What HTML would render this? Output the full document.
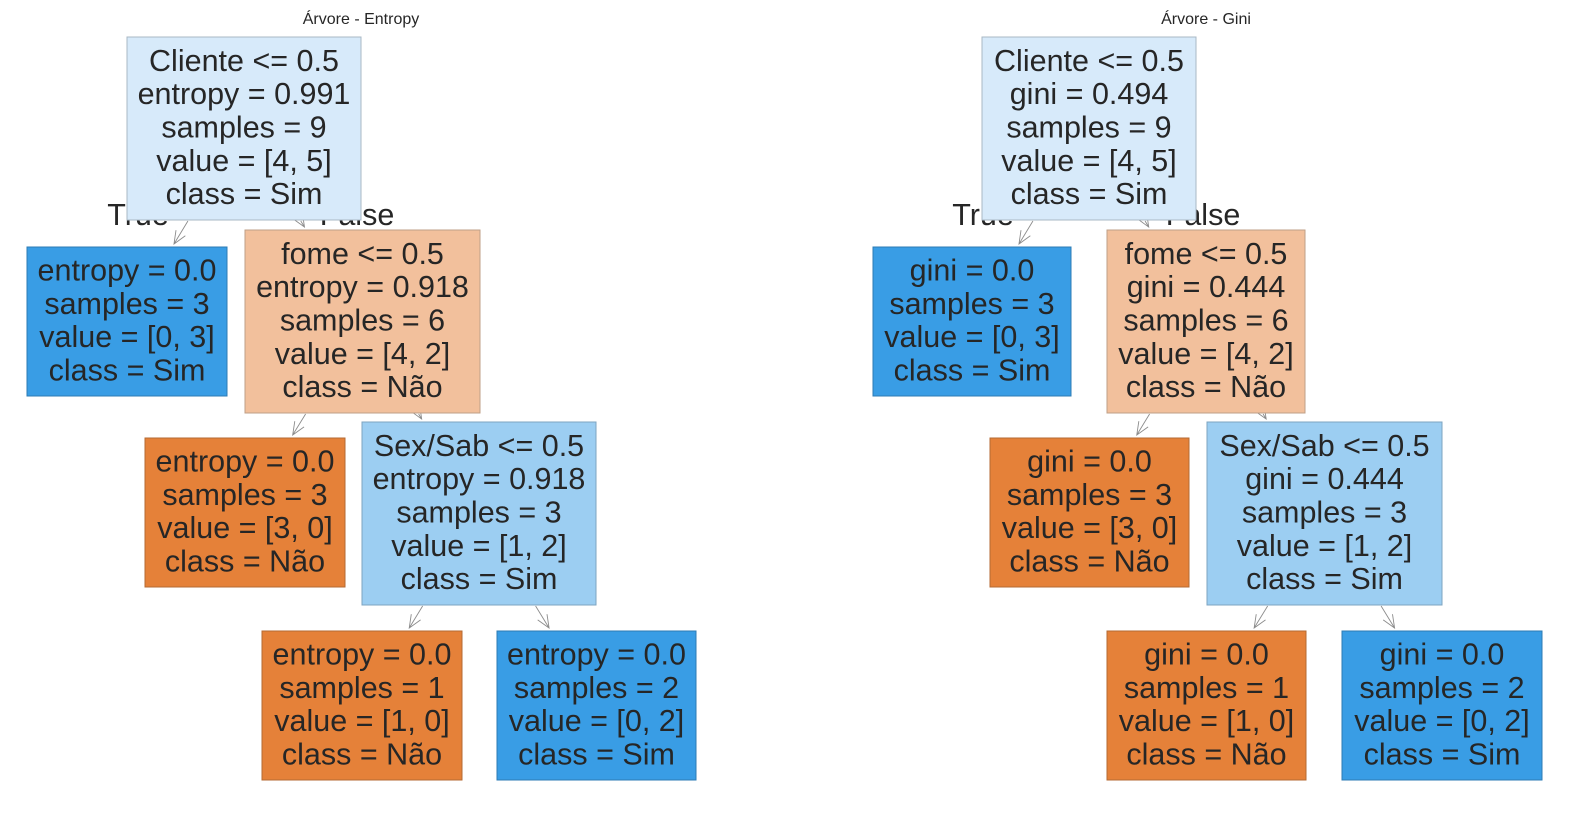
<!DOCTYPE html>
<html><head><meta charset="utf-8"><style>
html,body{margin:0;padding:0;background:#fff;}
svg{display:block;font-family:"Liberation Sans",Arial,sans-serif;}
</style></head><body>
<svg id="chart" width="1569" height="813" viewBox="0 0 1569 813"></svg>
<script>
const titles = ["Árvore - Entropy", "Árvore - Gini"];
const titleX = [361, 1206];
const entropyLines = [
 ["Cliente <= 0.5","entropy = 0.991","samples = 9","value = [4, 5]","class = Sim"],
 ["entropy = 0.0","samples = 3","value = [0, 3]","class = Sim"],
 ["fome <= 0.5","entropy = 0.918","samples = 6","value = [4, 2]","class = Não"],
 ["entropy = 0.0","samples = 3","value = [3, 0]","class = Não"],
 ["Sex/Sab <= 0.5","entropy = 0.918","samples = 3","value = [1, 2]","class = Sim"],
 ["entropy = 0.0","samples = 1","value = [1, 0]","class = Não"],
 ["entropy = 0.0","samples = 2","value = [0, 2]","class = Sim"]
];
const giniLines = [
 ["Cliente <= 0.5","gini = 0.494","samples = 9","value = [4, 5]","class = Sim"],
 ["gini = 0.0","samples = 3","value = [0, 3]","class = Sim"],
 ["fome <= 0.5","gini = 0.444","samples = 6","value = [4, 2]","class = Não"],
 ["gini = 0.0","samples = 3","value = [3, 0]","class = Não"],
 ["Sex/Sab <= 0.5","gini = 0.444","samples = 3","value = [1, 2]","class = Sim"],
 ["gini = 0.0","samples = 1","value = [1, 0]","class = Não"],
 ["gini = 0.0","samples = 2","value = [0, 2]","class = Sim"]
];
const fills = ["#d7eafa","#399de5","#f2c09c","#e58139","#9ccef2","#e58139","#399de5"];
const strokes = ["#a9b8c4","#2d7bb4","#bf9f87","#b46a33","#7ea4c0","#b46a33","#2d7bb4"];
const parents = [-1,0,0,2,2,4,4];
const boxesL = [[127,37,361,220],[27,247,227,396],[245,230,480,413],[145,438,345,587],[362,422,596,605],[262,631,462,780],[497,631,696,780]];
const boxesR = [[982,37,1196,220],[873,247,1071,396],[1107,230,1305,413],[990,438,1189,587],[1207,422,1442,605],[1107,631,1306,780],[1342,631,1542,780]];
const tfLabels = [[138,"True",1],[357,"False",2],[983,"True",1],[1203,"False",2]];

const svg = document.getElementById('chart');
const NS = "http://www.w3.org/2000/svg";
function mk(tag, attrs){const e=document.createElementNS(NS,tag);for(const k in attrs)e.setAttribute(k,attrs[k]);return e;}

titles.forEach((t,i)=>{
  const e=mk('text',{x:titleX[i],y:24,'text-anchor':'middle','font-size':16,fill:'#262626'});
  
  
  e.textContent=t; svg.appendChild(e);
});
tfLabels.forEach(l=>{
  const e=mk('text',{x:l[0],y:225,'text-anchor':'middle','font-size':30.5,fill:'#262626'});
  
  
  e.textContent=l[1]; svg.appendChild(e);
});

function drawTree(boxes, lines, name){
  const g=mk('g',{});
  
  
  svg.appendChild(g);
  const c=b=>[(b[0]+b[2])/2,(b[1]+b[3])/2];
  for(let i=1;i<boxes.length;i++){
    const p=boxes[parents[i]], ch=boxes[i];
    const [px,py]=c(p),[cx,cy]=c(ch);
    const s=(cx-px)/(cy-py);
    const y1=p[3]+1, y2=ch[1]-3;
    const x1=px+s*(y1-py), x2=px+s*(y2-py);
    const ang=Math.atan2(y2-y1,x2-x1);
    const L=14, a=0.4;
    const d=`M${x1},${y1}L${x2},${y2}M${x2-L*Math.cos(ang-a)},${y2-L*Math.sin(ang-a)}L${x2},${y2}L${x2-L*Math.cos(ang+a)},${y2-L*Math.sin(ang+a)}`;
    const e=mk('path',{d:d,stroke:'#8c8c8c','stroke-width':0.9,fill:'none'});
    
    
    g.appendChild(e);
  }
  boxes.forEach((b,i)=>{
    const ng=mk('g',{});
    
    
    const r=mk('rect',{x:b[0],y:b[1],width:b[2]-b[0],height:b[3]-b[1],fill:fills[i],stroke:strokes[i],'stroke-width':1});
    
    
    ng.appendChild(r);
    const ls=lines[i], n=ls.length, lh=33.3;
    const cy=(b[1]+b[3])/2;
    ls.forEach((t,k)=>{
      const y=cy+(k-(n-1)/2)*lh+9;
      const e=mk('text',{x:(b[0]+b[2])/2,y:y,'text-anchor':'middle','font-size':30.5,fill:'#262626'});
      
      
      e.textContent=t; ng.appendChild(e);
    });
    g.appendChild(ng);
  });
}
drawTree(boxesL, entropyLines, 'entropy-tree');
drawTree(boxesR, giniLines, 'gini-tree');
</script>
</body></html>
